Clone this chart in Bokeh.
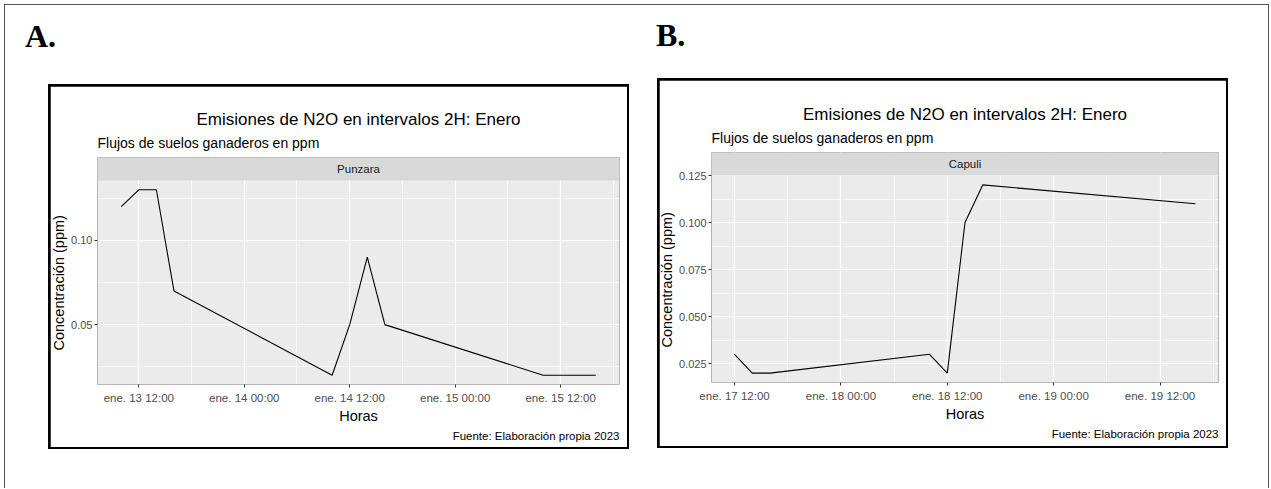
import pandas as pd
from bokeh.plotting import figure
from bokeh.layouts import row, column
from bokeh.models import (ColumnDataSource, Range1d, FixedTicker, DatetimeTickFormatter,
                          NumeralTickFormatter, Title, Div)
from bokeh.core.properties import value
from bokeh.embed import file_html
from bokeh.resources import INLINE

# ---- N2O concentration, 2-hour sampling ----
punzara_time = ["2023-01-13 10:00", "2023-01-13 12:00", "2023-01-13 14:00", "2023-01-13 16:00",
                "2023-01-14 10:00", "2023-01-14 12:00", "2023-01-14 14:00", "2023-01-14 16:00",
                "2023-01-15 10:00", "2023-01-15 12:00", "2023-01-15 14:00", "2023-01-15 16:00"]
punzara_ppm = [0.12, 0.13, 0.13, 0.07,
               0.02, 0.05, 0.09, 0.05,
               0.02, 0.02, 0.02, 0.02]
punzara_xticks = ["2023-01-13 12:00", "2023-01-14 00:00", "2023-01-14 12:00",
                  "2023-01-15 00:00", "2023-01-15 12:00"]
punzara_xminor = ["2023-01-13 18:00", "2023-01-14 06:00", "2023-01-14 18:00",
                  "2023-01-15 06:00", "2023-01-15 18:00"]
punzara_yticks = [0.05, 0.10]
punzara_yminor = [0.025, 0.075, 0.125]

capuli_time = ["2023-01-17 12:00", "2023-01-17 14:00", "2023-01-17 16:00",
               "2023-01-18 10:00", "2023-01-18 12:00", "2023-01-18 14:00", "2023-01-18 16:00",
               "2023-01-19 16:00"]
capuli_ppm = [0.03, 0.02, 0.02,
              0.03, 0.02, 0.10, 0.12,
              0.11]
capuli_xticks = ["2023-01-17 12:00", "2023-01-18 00:00", "2023-01-18 12:00",
                 "2023-01-19 00:00", "2023-01-19 12:00"]
capuli_xminor = ["2023-01-17 18:00", "2023-01-18 06:00", "2023-01-18 18:00",
                 "2023-01-19 06:00", "2023-01-19 18:00"]
capuli_yticks = [0.025, 0.050, 0.075, 0.100, 0.125]
capuli_yminor = [0.0375, 0.0625, 0.0875, 0.1125]

TITLE = "Emisiones de N2O en intervalos 2H: Enero"
SUBTITLE = "Flujos de suelos ganaderos en ppm"
CAPTION = "Fuente: Elaboración propia 2023"
X_TITLE = "Horas"
Y_TITLE = "Concentración (ppm)"

SANS = "Liberation Sans"
STRIP_H = 23  # facet strip height above each panel


def ms(s):
    return pd.Timestamp(s).value / 1e6


def padded(lo, hi, frac=0.05):
    span = hi - lo
    return lo - frac * span, hi + frac * span


def facet_panel(site, times, ppm, xticks, xminor, yticks, yminor, yfmt,
                width, height, border, ytitle_offset, ytitle_standoff):
    bl, br, bt, bb = border          # space around the grey panel (strip included on top)
    t = [ms(s) for s in times]
    x0, x1 = padded(min(t), max(t))
    y0, y1 = padded(min(ppm), max(ppm))

    panel_h = height - bt - bb - STRIP_H
    y_top = y1 + (y1 - y0) * STRIP_H / panel_h    # room for the strip inside the frame

    p = figure(width=width, height=height, x_axis_type="datetime",
               output_backend="svg", toolbar_location=None,
               x_range=Range1d(x0, x1), y_range=Range1d(y0, y_top),
               min_border_left=bl, min_border_right=br,
               min_border_top=bt, min_border_bottom=bb,
               margin=(2, 2, 2, 2))
    p.background_fill_color = "#EBEBEB"
    p.border_fill_color = "white"
    p.outline_line_color = None

    src = ColumnDataSource(dict(t=t, ppm=ppm))
    p.line(x="t", y="ppm", source=src, line_color="black", line_width=1.1)

    # facet strip
    p.quad(left=x0, right=x1, bottom=y1, top=y_top, fill_color="#D9D9D9", line_color=None)
    p.text(x=[(x0 + x1) / 2], y=[(y1 + y_top) / 2], text=[site],
           text_font=value(SANS), text_font_size="11.5px", text_color="#1A1A1A",
           text_align="center", text_baseline="middle")

    xt = FixedTicker(ticks=[ms(s) for s in xticks], minor_ticks=[ms(s) for s in xminor])
    yt = FixedTicker(ticks=yticks, minor_ticks=yminor)
    p.xaxis.ticker = xt
    p.yaxis.ticker = yt
    p.xgrid.ticker = xt
    p.ygrid.ticker = yt
    fmt = "ene. %d %H:%M"
    p.xaxis.formatter = DatetimeTickFormatter(
        microseconds=fmt, milliseconds=fmt, seconds=fmt, minsec=fmt, minutes=fmt,
        hourmin=fmt, hours=fmt, days=fmt, months=fmt, years=fmt)
    p.yaxis.formatter = NumeralTickFormatter(format=yfmt)

    for g in (p.xgrid, p.ygrid):
        g.grid_line_color = "white"
        g.grid_line_width = 1.2
        g.minor_grid_line_color = "white"
        g.minor_grid_line_width = 0.6

    for ax in (p.xaxis, p.yaxis):
        ax.axis_line_color = None
        ax.major_tick_line_color = "#333333"
        ax.major_tick_out = 3
        ax.major_tick_in = 0
        ax.minor_tick_line_color = None
        ax.major_label_text_color = "#4D4D4D"
        ax.major_label_text_font = SANS
        ax.axis_label_text_font = SANS
        ax.axis_label_text_font_size = "14.5px"
        ax.axis_label_text_font_style = "normal"
        ax.axis_label_text_color = "black"
    p.xaxis.major_label_text_font_size = "11.5px"
    p.yaxis.major_label_text_font_size = "11px"
    p.xaxis.major_label_standoff = 3
    p.xaxis.axis_label_standoff = 1
    p.yaxis.major_label_standoff = 1
    p.xaxis.axis_label = X_TITLE

    # y title centred on the data panel (not on the strip)
    p.add_layout(Title(text=Y_TITLE, align="left", offset=ytitle_offset,
                       vertical_align="top", standoff=ytitle_standoff,
                       text_font=SANS, text_font_size="14.5px",
                       text_font_style="normal", text_color="black"), "left")

    p.add_layout(Title(text=SUBTITLE, align="left", text_font=SANS, text_font_size="14px",
                       text_font_style="normal", text_color="black", standoff=14), "above")
    p.add_layout(Title(text=TITLE, align="center", text_font=SANS, text_font_size="17px",
                       text_font_style="normal", text_color="black", standoff=-6), "above")
    p.add_layout(Title(text=CAPTION, align="right", text_font=SANS, text_font_size="11.5px",
                       text_font_style="normal", text_color="black", standoff=3), "below")
    return p


def framed(p, margin):
    # black 2px box around the chart: the wrapper's background shows in the child's margin
    return column(p, margin=margin, styles={"background-color": "black"})


def tag(letter, margin):
    html = ('<span style="font-family: \'Liberation Serif\'; font-weight: bold; '
            'font-size: 32px; line-height: 32px; color: black;">%s</span>' % letter)
    return Div(text=html, width=60, height=40, margin=margin)


pa = facet_panel("Punzara", punzara_time, punzara_ppm, punzara_xticks, punzara_xminor,
                 punzara_yticks, punzara_yminor, "0.00",
                 width=577, height=361, border=(47, 8, 71, 63),
                 ytitle_offset=34, ytitle_standoff=-1)
pb = facet_panel("Capuli", capuli_time, capuli_ppm, capuli_xticks, capuli_xminor,
                 capuli_yticks, capuli_yminor, "0.000",
                 width=567, height=366, border=(52, 8, 72, 64),
                 ytitle_offset=35, ytitle_standoff=-3)

left = column(tag("A.", (16, 0, 0, 21)), framed(pa, (24, 0, 39, 44)))
right = column(tag("B.", (15, 0, 0, 27)), framed(pb, (19, 41, 40, 28)))

page = row(left, right, margin=(4, 0, 0, 4),
           styles={"box-shadow": "inset 1px 0 0 #555, inset 0 1px 0 #555, inset -1px 0 0 #555"})
open("out.html", "w").write(file_html(page, INLINE))
